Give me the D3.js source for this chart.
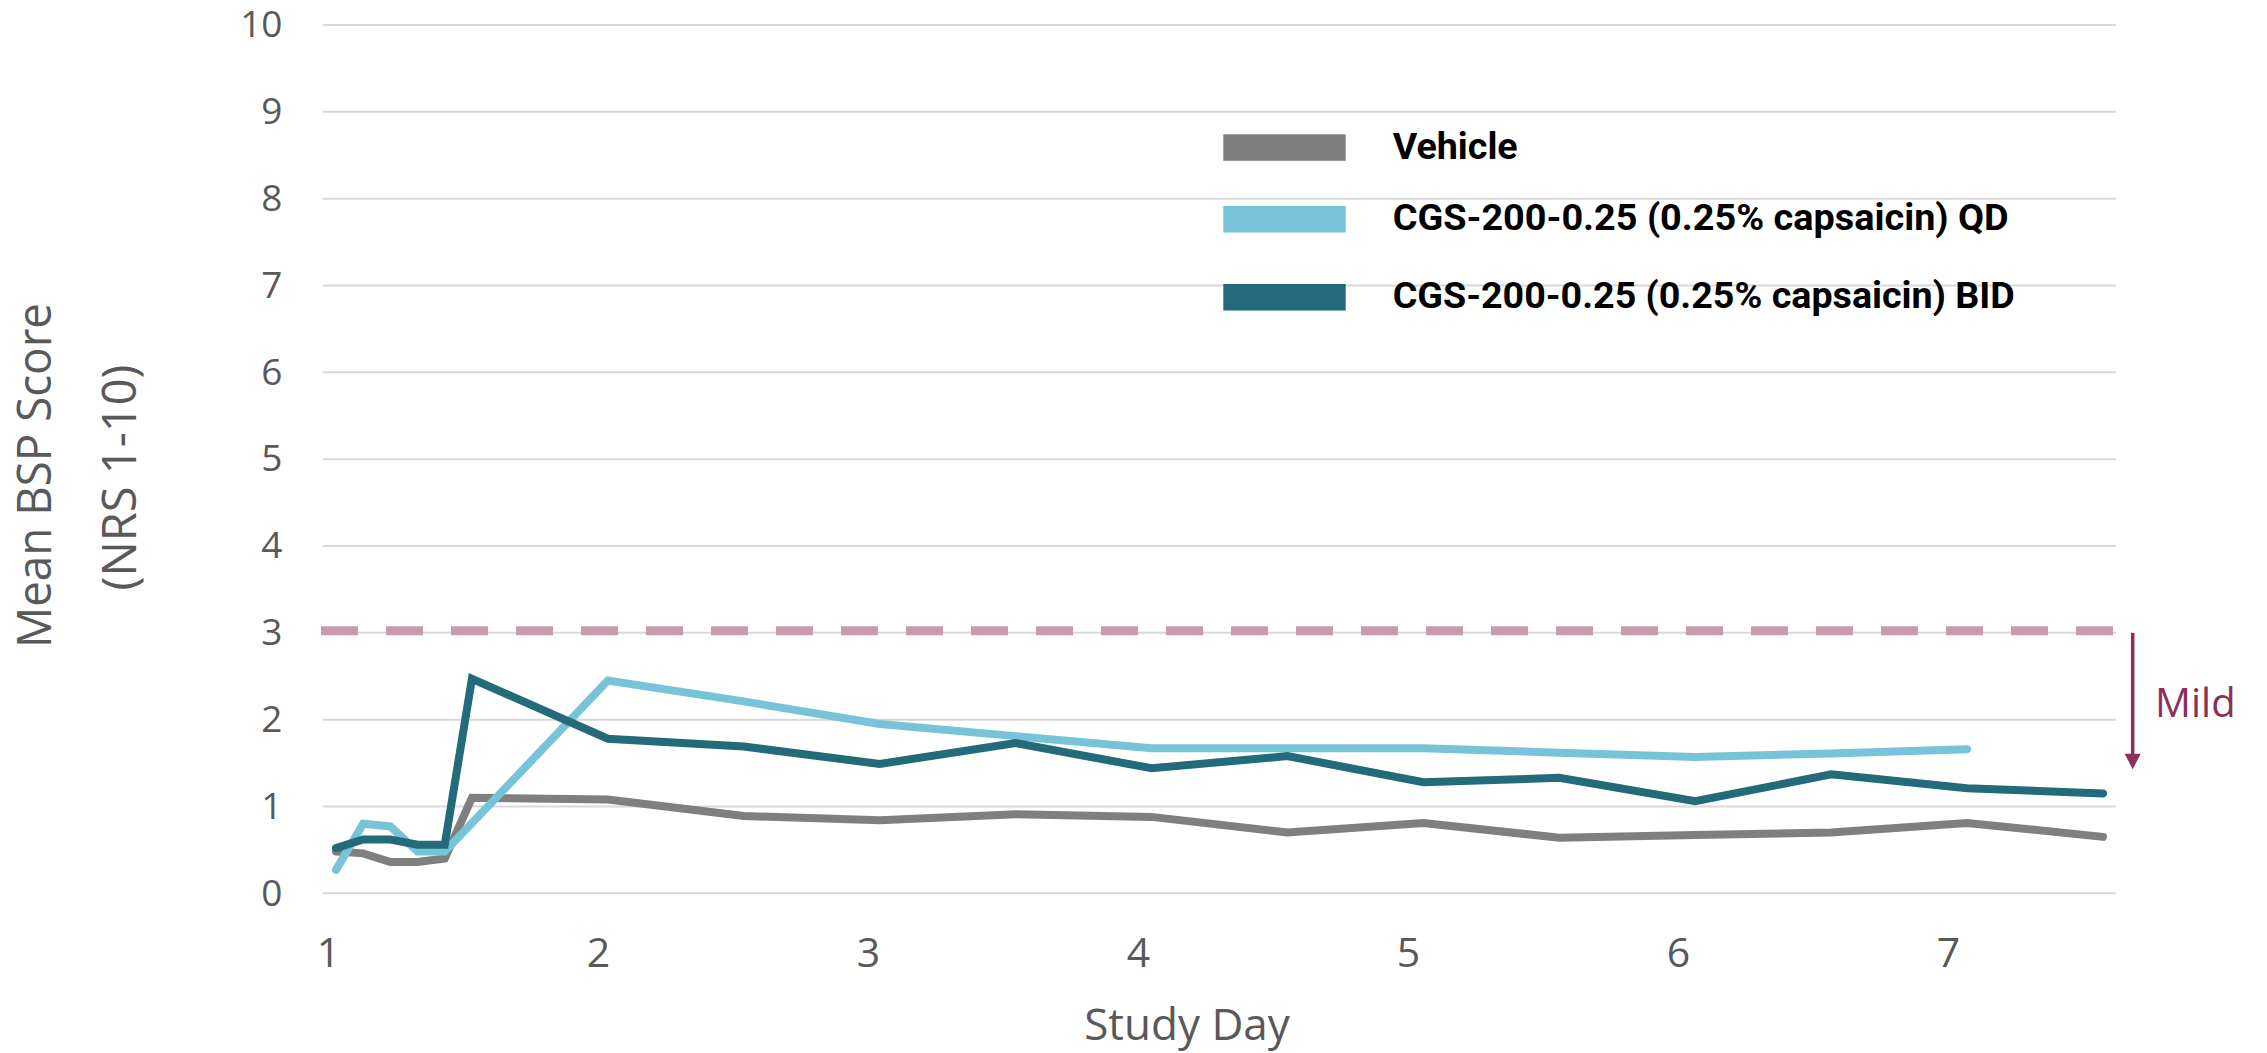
<!DOCTYPE html>
<html>
<head>
<meta charset="utf-8">
<script src="https://cdn.jsdelivr.net/npm/d3@7"></script>
<style>
  html, body { margin: 0; padding: 0; background: #ffffff; }
  svg { display: block; }
</style>
</head>
<body>
<svg id="chart" width="2267" height="1053"></svg>
<script>
// Study days at which the mean score was recorded
const days = [1.0, 1.1, 1.2, 1.3, 1.4, 1.5, 2.0, 2.5, 3.0, 3.5, 4.0, 4.5, 5.0, 5.5, 6.0, 6.5, 7.0, 7.5];

// Mean BSP score per arm (null = no value recorded)
const vehicle = [0.48, 0.46, 0.36, 0.36, 0.40, 1.10, 1.08, 0.89, 0.84, 0.91, 0.88, 0.70, 0.81, 0.64, 0.67, 0.70, 0.81, 0.65];
const qd      = [0.27, 0.80, 0.77, 0.48, 0.48, null, 2.45, 2.21, 1.95, 1.81, 1.67, 1.67, 1.67, 1.62, 1.57, 1.61, 1.66, null];
const bid     = [0.52, 0.62, 0.62, 0.56, 0.56, 2.47, 1.78, 1.69, 1.49, 1.73, 1.44, 1.58, 1.28, 1.33, 1.06, 1.37, 1.21, 1.15];

const seriesNames = [
  "Vehicle",
  "CGS-200-0.25 (0.25% capsaicin) QD",
  "CGS-200-0.25 (0.25% capsaicin) BID"
];

const yTickValues = [0, 1, 2, 3, 4, 5, 6, 7, 8, 9, 10];
const xTickValues = [1, 2, 3, 4, 5, 6, 7];
const mildThreshold = 3;

// ---- styling ----
const seriesColors = ["#7f7f7f", "#77c4d8", "#236b7a"];
const axisTextColor = "#595959";
const gridColor = "#d9d9d9";
const thresholdColor = "#c89aae";
const mildColor = "#8c2f5b";
const regularFont = "'Open Sans', sans-serif";
const boldFont = "Roboto, 'Open Sans', sans-serif";

const svg = d3.select("#chart");

// Scales
const x = d3.scaleLinear().domain([1, 7.5]).range([336, 2103]);
const xLabelScale = d3.scaleLinear().domain([1, 7]).range([328, 1948]);
const y = d3.scaleLinear().domain([0, 10]).range([893.3, 25]);

const gridLeft = 322.7, gridRight = 2116;

// Horizontal gridlines
svg.append("g")
  .selectAll("line")
  .data(yTickValues)
  .join("line")
  .attr("x1", gridLeft)
  .attr("x2", gridRight)
  .attr("y1", d => y(d))
  .attr("y2", d => y(d))
  .attr("stroke", gridColor)
  .attr("stroke-width", 2);

// Y axis labels
const yAxis = svg.append("g")
  .attr("transform", `translate(282.5,0)`)
  .call(d3.axisLeft(y).tickValues(yTickValues).tickSize(0).tickPadding(0).tickFormat(d3.format("d")));
yAxis.select(".domain").remove();
yAxis.selectAll("text")
  .attr("font-family", regularFont)
  .attr("font-size", 37)
  .attr("fill", axisTextColor);

// X axis labels
const xAxis = svg.append("g")
  .attr("transform", `translate(0,938)`)
  .call(d3.axisBottom(xLabelScale).tickValues(xTickValues).tickSize(0).tickPadding(0).tickFormat(d3.format("d")));
xAxis.select(".domain").remove();
xAxis.selectAll("text")
  .attr("font-family", regularFont)
  .attr("font-size", 41)
  .attr("fill", axisTextColor);

// Axis titles
svg.append("text")
  .attr("transform", `translate(50.7,475.5) rotate(-90)`)
  .attr("text-anchor", "middle")
  .attr("font-family", regularFont)
  .attr("font-size", 47)
  .attr("fill", axisTextColor)
  .attr("textLength", 345)
  .attr("lengthAdjust", "spacingAndGlyphs")
  .text("Mean BSP Score");

svg.append("text")
  .attr("transform", `translate(135.5,477.5) rotate(-90)`)
  .attr("text-anchor", "middle")
  .attr("font-family", regularFont)
  .attr("font-size", 47)
  .attr("fill", axisTextColor)
  .text("(NRS 1-10)");

svg.append("text")
  .attr("x", 1187)
  .attr("y", 1039.5)
  .attr("text-anchor", "middle")
  .attr("font-family", regularFont)
  .attr("font-size", 44)
  .attr("fill", axisTextColor)
  .text("Study Day");

// Dashed threshold for mild itch
svg.append("line")
  .attr("x1", 321)
  .attr("x2", 2113)
  .attr("y1", y(mildThreshold) - 2)
  .attr("y2", y(mildThreshold) - 2)
  .attr("stroke", thresholdColor)
  .attr("stroke-width", 9)
  .attr("stroke-dasharray", "37 28");

// Series lines
const line = d3.line()
  .x(d => x(d.day))
  .y(d => y(d.value));

[vehicle, qd, bid].forEach((values, i) => {
  const pts = days
    .map((day, j) => ({ day, value: values[j] }))
    .filter(d => d.value !== null);
  svg.append("path")
    .datum(pts)
    .attr("d", line)
    .attr("fill", "none")
    .attr("stroke", seriesColors[i])
    .attr("stroke-width", 8)
    .attr("stroke-linecap", "round")
    .attr("stroke-linejoin", "miter");
});

// "Mild" arrow annotation
const arrowX = 2132.7, arrowTop = y(mildThreshold), arrowTip = 769.3;
svg.append("line")
  .attr("x1", arrowX).attr("x2", arrowX)
  .attr("y1", arrowTop).attr("y2", arrowTip - 14)
  .attr("stroke", mildColor)
  .attr("stroke-width", 3.5);
svg.append("path")
  .attr("d", `M${arrowX - 8},${arrowTip - 15.5} L${arrowX + 8},${arrowTip - 15.5} L${arrowX},${arrowTip} Z`)
  .attr("fill", mildColor);
svg.append("text")
  .attr("x", 2155)
  .attr("y", 716.7)
  .attr("font-family", regularFont)
  .attr("font-size", 40)
  .attr("fill", mildColor)
  .text("Mild");

// Legend
const legendTops = [134.3, 206, 284];
const legendWidths = [125, 616, 622];
const legend = svg.append("g");
seriesNames.forEach((name, i) => {
  legend.append("rect")
    .attr("x", 1223.3)
    .attr("y", legendTops[i])
    .attr("width", 122.4)
    .attr("height", 26.5)
    .attr("fill", seriesColors[i]);
  legend.append("text")
    .attr("x", 1392.7)
    .attr("y", legendTops[i] + 24.3)
    .attr("font-family", boldFont)
    .attr("font-weight", "bold")
    .attr("font-size", 37.5)
    .attr("fill", "#000000")
    .attr("textLength", legendWidths[i])
    .attr("lengthAdjust", "spacingAndGlyphs")
    .text(name);
});
</script>
</body>
</html>
